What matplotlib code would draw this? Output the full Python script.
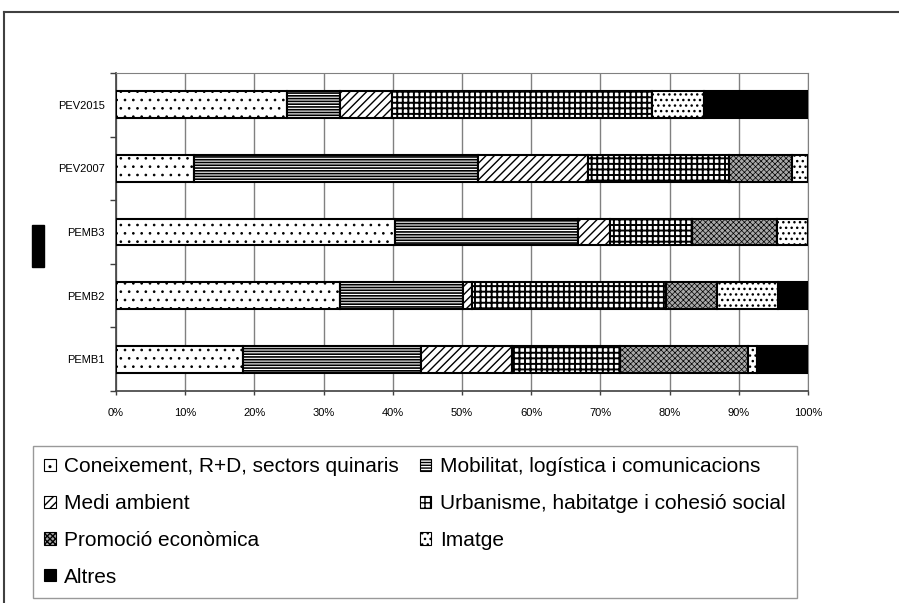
import numpy as np
import matplotlib
matplotlib.use("Agg")
import matplotlib.pyplot as plt
from matplotlib.patches import Rectangle, Patch
from matplotlib.lines import Line2D

plt.rcParams['font.family'] = ['Liberation Sans', 'DejaVu Sans']

plans = ["PEMB1", "PEMB2", "PEMB3", "PEV2007", "PEV2015"]

eixos = ["Coneixement, R+D, sectors quinaris",
         "Mobilitat, logística i comunicacions",
         "Medi ambient",
         "Urbanisme, habitatge i cohesió social",
         "Promoció econòmica",
         "Imatge",
         "Altres"]

# percentatge de cada eix per pla (PEMB1 .. PEV2015)
coneixement = [18.4, 32.3, 40.3, 11.2, 24.7]
mobilitat   = [25.7, 17.8, 26.5, 41.1, 7.6]
medi        = [13.1, 1.4, 4.6, 15.9, 7.6]
urbanisme   = [15.7, 28.0, 11.8, 20.4, 37.5]
promocio    = [18.5, 7.3, 12.3, 9.1, 0.0]
imatge      = [1.3, 8.8, 4.5, 2.3, 7.5]
altres      = [7.3, 4.4, 0.0, 0.0, 15.1]

series = [coneixement, mobilitat, medi, urbanisme, promocio, imatge, altres]

estils = [
    dict(facecolor="white", hatch="..", hl=0.7),
    dict(facecolor="white", hatch="------", hl=1.2),
    dict(facecolor="white", hatch="////", hl=1.0),
    dict(facecolor="white", hatch="+++", hl=1.4),
    dict(facecolor="#a8a8a8", hatch="xxxxxx", hl=0.5),
    dict(facecolor="white", hatch="...", hl=1.0),
    dict(facecolor="black", hatch=None, hl=1.0),
]

W, H = 899, 603
fig = plt.figure(figsize=(W / 100, H / 100), dpi=100)

x0, x1, y0, y1 = 116, 808, 73, 391
ax = fig.add_axes([x0 / W, 1 - y1 / H, (x1 - x0) / W, (y1 - y0) / H])

y = np.arange(len(plans))
left = np.zeros(len(plans))
handles = []
for vals, nom, e in zip(series, eixos, estils):
    with plt.rc_context({'hatch.linewidth': e["hl"]}):
        bars = ax.barh(y, vals, left=left, height=0.42, facecolor=e["facecolor"],
                       edgecolor="black", linewidth=1.5, hatch=e["hatch"], zorder=3)
        handles.append(Patch(facecolor=e["facecolor"], edgecolor="black",
                             linewidth=0.8, hatch=e["hatch"]))
    left += np.array(vals)

ax.set_xlim(0, 100)
ax.set_ylim(-0.5, len(plans) - 0.5)
ax.set_xticks(np.arange(0, 101, 10))
ax.set_xticklabels([f"{v}%" for v in range(0, 101, 10)])
ax.set_yticks(y)
ax.set_yticklabels(plans)
ax.set_yticks(np.arange(-0.5, len(plans), 1), minor=True)
ax.tick_params(axis="y", which="major", length=0, pad=8, labelsize=8)
ax.tick_params(axis="y", which="minor", length=4, width=1, color="#404040")
ax.tick_params(axis="x", length=3, width=1, color="#404040", pad=9, labelsize=8)
ax.grid(axis="x", color="#808080", linewidth=1, zorder=0)
ax.set_axisbelow(True)
for s in ["top", "right"]:
    ax.spines[s].set_color("#808080")
for s in ["left", "bottom"]:
    ax.spines[s].set_color("#404040")
    ax.spines[s].set_linewidth(1.2)

ordre = [0, 2, 4, 6, 1, 3, 5]
leg = fig.legend([handles[i] for i in ordre], [eixos[i] for i in ordre],
                 loc="upper left", bbox_to_anchor=(33 / W, 1 - 446 / H), ncol=2,
                 fontsize=15, frameon=True, fancybox=False, edgecolor="#808080",
                 handlelength=0.55, handleheight=0.55, handletextpad=0.4,
                 labelspacing=0.85, columnspacing=1.0, borderpad=0.55, borderaxespad=0)
leg.get_frame().set_linewidth(1)

# marc exterior
fig.add_artist(Line2D([4 / W, 1], [1 - 12 / H, 1 - 12 / H], color="#404040", lw=1.5))
fig.add_artist(Line2D([4 / W, 4 / W], [0, 1 - 12 / H], color="#404040", lw=1.5))
fig.add_artist(Rectangle((32 / W, 1 - 267 / H), 12 / W, 42 / H, color="black"))

fig.savefig("out.png", dpi=100)
